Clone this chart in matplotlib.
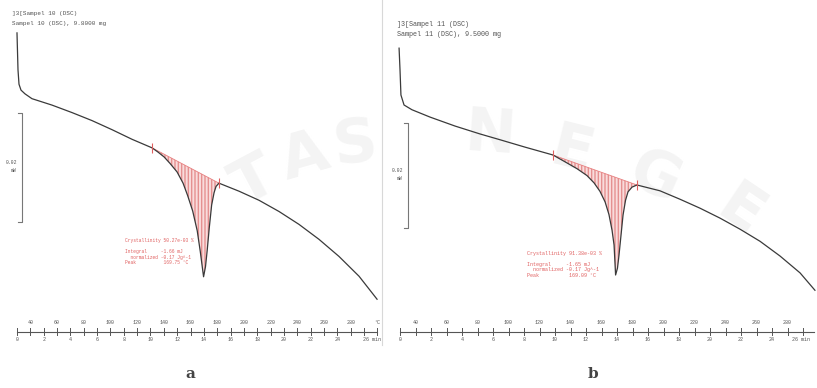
import numpy as np
import matplotlib
matplotlib.use("Agg")
from matplotlib import pyplot as plt
from matplotlib import transforms

# DSC traces, x = temperature (C), y = heat flow (mW)
temp_a = [30, 30.75, 31.5, 33, 36, 41.2, 56.2, 71.2, 86.2, 101.2, 116.2, 131.2,
          135.7, 140.2, 144.6, 149.9, 154.4, 157.8, 161.6, 165.0, 167.3, 169.75,
          171.2, 172.5, 174.0, 175.8, 177.6, 179.1, 181.3, 196.3, 211.3, 226.3,
          241.2, 256.2, 271.2, 286.2, 299.7]
hf_a = [0.0219, 0.0150, 0.0123, 0.0112, 0.0105, 0.0096, 0.0084, 0.0070, 0.0055,
        0.0038, 0.0020, 0.0004, -0.0004, -0.0013, -0.0025, -0.0041, -0.0062,
        -0.0085, -0.0114, -0.0151, -0.0190, -0.0237, -0.0218, -0.0187, -0.0146,
        -0.0103, -0.0080, -0.0068, -0.0062, -0.0077, -0.0094, -0.0115, -0.0139,
        -0.0167, -0.0199, -0.0236, -0.0279]
lim_a = (11, 28)   # integration limits (index into temp_a)

temp_b = [29.4, 30, 30.6, 32.6, 37.7, 49.4, 65.5, 81.6, 94.5, 110.6, 128.7,
          136.5, 144.2, 150.6, 155.2, 159.0, 162.3, 164.8, 166.8, 168.1, 169.09,
          170.3, 171.3, 172.6, 173.9, 175.5, 177.1, 179.7, 182.9, 197.7, 210.6,
          223.5, 236.5, 249.4, 262.3, 275.2, 288.1, 297.7]
hf_b = [0.0203, 0.0162, 0.0114, 0.0095, 0.0086, 0.0072, 0.0055, 0.0040, 0.0029,
        0.0015, 0.0000, -0.0013, -0.0026, -0.0039, -0.0053, -0.0069, -0.0089,
        -0.0113, -0.0143, -0.0171, -0.0228, -0.0215, -0.0190, -0.0152, -0.0114,
        -0.0086, -0.0070, -0.0061, -0.0057, -0.0068, -0.0084, -0.0101, -0.0120,
        -0.0141, -0.0164, -0.0192, -0.0224, -0.0257]
lim_b = (10, 28)

temp_ticks = list(range(40, 300, 20))
time_ticks = list(range(0, 28, 2))

title_a = ["]3[Sampel 10 (DSC)", "Sampel 10 (DSC), 9.8000 mg"]
title_b = ["]3[Sampel 11 (DSC)", "Sampel 11 (DSC), 9.5000 mg"]
res_a = ["Crystallinity 50.27e-03 %", "",
         "Integral     -1.66 mJ", "  normalized -0.17 Jg^-1", "Peak          169.75 \u00b0C"]
res_b = ["Crystallinity 91.38e-03 %", "",
         "Integral     -1.65 mJ", "  normalized -0.17 Jg^-1", "Peak          169.09 \u00b0C"]

W, H = 817, 388
MONO = "Liberation Mono"
INK = "#3a3a3a"
RED = "#e06060"

fig = plt.figure(figsize=(W / 100, H / 100), dpi=100)
fig.patch.set_facecolor("white")


def fx(x):
    return x / W


def fy(y):
    return 1 - y / H


# faint watermark lettering behind the scans
for ch, x, y, rot in [("T", 255, 182, 28), ("A", 305, 158, 16), ("S", 355, 145, 7),
                      ("N", 490, 135, -4), ("E", 572, 152, -14), ("G", 655, 178, -24),
                      ("E", 740, 212, -34)]:
    fig.text(fx(x), fy(y), ch, fontsize=44, family="DejaVu Sans", weight="bold",
             color="#f4f4f4", ha="center", va="center", rotation=rot, zorder=-1)


def panel(left, width, xlim, ylim, temp, hf, lim, title, res, ty, rx, ry, rsize,
          tsize, bar, tmax, label, lx, last_ha):
    ax = fig.add_axes([fx(left), 0, width / W, 1])
    ax.set_xlim(*xlim)
    ax.set_ylim(*ylim)
    ax.axis("off")

    i0, i1 = lim
    ax.fill(temp[i0:i1 + 1], hf[i0:i1 + 1], facecolor="#f9dcdc",
            edgecolor="#e59090", hatch="|||||", lw=0.0, zorder=1)
    ax.plot([temp[i0], temp[i1]], [hf[i0], hf[i1]], color="#e88080", lw=0.6, zorder=2)
    ax.plot(temp, hf, color=INK, lw=0.9, zorder=3)
    ax.plot([temp[i0], temp[i1]], [hf[i0], hf[i1]], ls="none", marker="|",
            ms=7, mew=0.8, color=RED, zorder=4)

    # time / temperature axis along the bottom
    tr = transforms.blended_transform_factory(ax.transData, fig.transFigure)
    ax.plot([30, tmax], [fy(331.5)] * 2, color="#555555", lw=0.8, transform=tr)
    for t in range(30, int(tmax) + 1, 10):
        ax.plot([t, t], [fy(328), fy(335)], color="#555555", lw=0.7, transform=tr)
    for T in temp_ticks:
        ax.text(T, fy(322), str(T), transform=tr, ha="center", va="center",
                fontsize=3.6, family=MONO, color="#555555")
    if tmax > 299:
        ax.text(300, fy(322), "\u00b0C", transform=tr, ha="center", va="center",
                fontsize=3.6, family=MONO, color="#555555")
    for t in time_ticks:
        last = t == time_ticks[-1]
        ax.text(30 + 10 * t - (1 if last else 0), fy(339.5),
                f"{t} min" if last else str(t), transform=tr,
                ha=last_ha if last else "center", va="center",
                fontsize=3.6, family=MONO, color="#555555")

    # header
    for k, line in enumerate(title):
        fig.text(fx(left + 2 if left else 12), fy(ty + 10 * k), line, fontsize=tsize,
                 family=MONO, color="#555555", va="center")

    # result box
    for k, line in enumerate(res):
        fig.text(fx(rx), fy(ry + 5.6 * k), line, fontsize=rsize, family=MONO,
                 color=RED, va="center")

    # 0.02 mW scale bar
    bx, b0, b1 = bar
    fig.lines.append(plt.Line2D([fx(bx - 4), fx(bx), fx(bx), fx(bx - 4)],
                                [fy(b0), fy(b0), fy(b1), fy(b1)],
                                color="#777777", lw=0.8, transform=fig.transFigure))
    fig.text(fx(bx - 5), fy((b0 + b1) / 2 - 5), "0.02", fontsize=3.4, family=MONO,
             color="#555555", ha="right", va="center")
    fig.text(fx(bx - 5), fy((b0 + b1) / 2 + 3), "mW", fontsize=3.4, family=MONO,
             color="#555555", ha="right", va="center")

    fig.text(fx(lx), fy(374), label, fontsize=11, family="DejaVu Serif",
             weight="bold", color="#444444", ha="center", va="center")
    return ax


panel(0, 390, (17.27, 309.4), (-0.0445, 0.02805), temp_a, hf_a, lim_a,
      title_a, res_a, 13, 125, 240.5, 3.3, 4.3, (22, 113, 222), 300, "a", 190, "left")
panel(395, 422, (26.77, 299.03), (-0.04427, 0.02945), temp_b, hf_b, lim_b,
      title_b, res_b, 25, 527, 253, 3.6, 4.9, (408, 123, 228), 297, "b", 593, "center")

# frame edge between the two scans
fig.lines.append(plt.Line2D([fx(382), fx(382)], [fy(0), fy(345)], color="#d8d8d8",
                            lw=0.8, transform=fig.transFigure))

fig.savefig("out.png", dpi=100)
